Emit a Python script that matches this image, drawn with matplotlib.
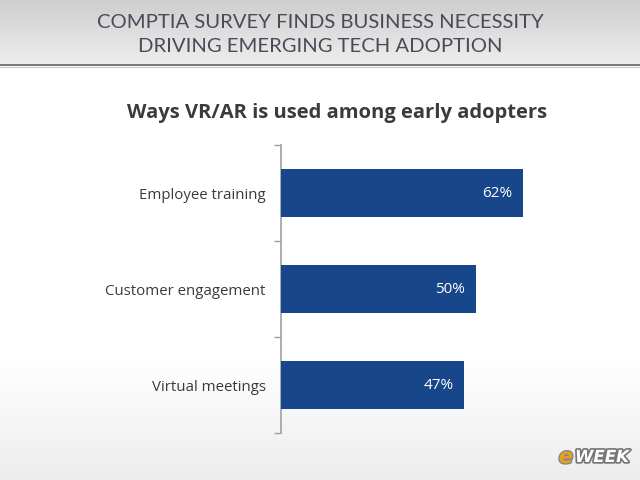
import matplotlib
matplotlib.use("Agg")
import matplotlib.pyplot as plt
import numpy as np
import matplotlib.patheffects as pe

categories = ["Employee training", "Customer engagement", "Virtual meetings"]
values = [62, 50, 47]
value_labels = ["62%", "50%", "47%"]

fig = plt.figure(figsize=(6.4, 4.8), dpi=100)
fig.patch.set_facecolor("white")

# background gradient (page)
bg = fig.add_axes([0, 0, 1, 1], zorder=-10)
grad = np.linspace(0, 1, 256).reshape(-1, 1)
shade = np.clip((grad - 0.75) / 0.25, 0, 1) * 0.07
page = np.ones((256, 1, 3)) - shade[:, :, None]
bg.imshow(page, extent=[0, 1, 0, 1], aspect="auto", origin="upper")
# header gradient
hdr = np.linspace(0.81, 0.93, 100).reshape(-1, 1)
hdr_img = np.dstack([hdr, hdr, hdr])
bg.imshow(hdr_img, extent=[0, 1, 1 - 64 / 480, 1], aspect="auto", origin="upper")
bg.axhline(1 - 64.5 / 480, color="#6e6a72", lw=1.3)
bg.axhline(1 - 66.5 / 480, color="#c9c9cc", lw=0.8)
bg.set_xlim(0, 1)
bg.set_ylim(0, 1)
bg.axis("off")

fig.text(0.5, 1 - 22 / 480, "COMPTIA SURVEY FINDS BUSINESS NECESSITY",
         ha="center", va="center", fontsize=14.6, color="#4f4858", family="Lato")
fig.text(0.5, 1 - 46 / 480, "DRIVING EMERGING TECH ADOPTION",
         ha="center", va="center", fontsize=14.6, color="#4f4858", family="Lato")

fig.text(337 / 640, 1 - 113 / 480, "Ways VR/AR is used among early adopters",
         ha="center", va="center", fontsize=14.5, fontweight="bold",
         color="#3b3b3b", family="Open Sans")

ax = fig.add_axes([281 / 640, 1 - 433 / 480, 273 / 640, 288 / 480])
ax.set_facecolor("none")
y = np.arange(len(categories))
ax.barh(y, values, height=0.5, color="#17468a", zorder=3)
ax.set_xlim(0, 70)
ax.set_ylim(len(categories) - 0.5, -0.5)
for yi, v, lab in zip(y, values, value_labels):
    ax.text(v - 2.8, yi, lab, ha="right", va="center", color="white",
            fontsize=11, family="Open Sans")
ax.set_yticks(y)
ax.set_yticklabels(categories, fontsize=10.8, color="#3a3a3a", family="Open Sans")
ax.tick_params(axis="y", which="major", length=0, pad=11)
ax.set_yticks(np.arange(-0.5, len(categories), 1), minor=True)
ax.tick_params(axis="y", which="minor", length=5, color="#a0a0a0", direction="out", width=1)
ax.set_xticks([])
for s in ["top", "right", "bottom"]:
    ax.spines[s].set_visible(False)
ax.spines["left"].set_color("#a0a0a0")
ax.spines["left"].set_linewidth(1.2)

# logo
fig.text(573 / 640, 1 - 457 / 480, "e", ha="right", va="center", fontsize=15,
         fontweight="bold", style="italic", color="#e8a020", family="DejaVu Sans",
         path_effects=[pe.withStroke(linewidth=2, foreground="#888888")])
fig.text(629 / 640, 1 - 457 / 480, "WEEK", ha="right", va="center", fontsize=12,
         fontweight="bold", style="italic", color="white", family="DejaVu Sans",
         path_effects=[pe.withStroke(linewidth=2.5, foreground="#777777")])

fig.savefig("out.png", dpi=100)
